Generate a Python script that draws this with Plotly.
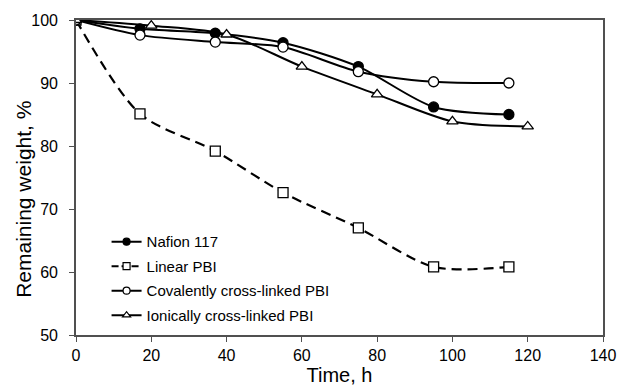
import plotly.graph_objects as go

nafion_x = [0, 17, 37, 55, 75, 95, 115]
nafion_y = [100, 98.6, 97.9, 96.4, 92.6, 86.2, 85.0]

linear_x = [0, 17, 37, 55, 75, 95, 115]
linear_y = [100, 85.1, 79.2, 72.6, 67.0, 60.8, 60.8]

cov_x = [0, 17, 37, 55, 75, 95, 115]
cov_y = [100, 97.6, 96.5, 95.7, 91.8, 90.2, 90.0]

ion_x = [0, 20, 40, 60, 80, 100, 120]
ion_y = [100, 99.1, 97.7, 92.6, 88.2, 83.9, 83.1]

series = [
    ("Nafion 117", nafion_x, nafion_y, "circle", "black", "solid"),
    ("Linear PBI", linear_x, linear_y, "square", "white", "10px,6px"),
    ("Covalently cross-linked PBI", cov_x, cov_y, "circle", "white", "solid"),
    ("Ionically cross-linked PBI", ion_x, ion_y, "triangle-up", "white", "solid"),
]

FONT = "Liberation Sans, Arial"
AXIS = "#505050"

fig = go.Figure()

for i, (name, x, y, sym, fill, dash) in enumerate(series):
    fig.add_trace(go.Scatter(
        x=x, y=y, name=name, mode="lines+markers", showlegend=False,
        line=dict(color="black", width=2.2 if dash != "solid" else 2,
                  shape="spline", smoothing=0.8, dash=dash),
        marker=dict(symbol=sym, size=10, color=fill, line=dict(color="black", width=1.3)),
    ))

# legend-only entries (smaller markers as in the reference legend)
for i, (name, x, y, sym, fill, dash) in enumerate(series):
    fig.add_trace(go.Scatter(
        x=[None], y=[None], name=name, mode="lines+markers", legendgroup=f"g{i}",
        line=dict(color="black", width=2, dash="7px,3px" if dash != "solid" else "solid"),
        marker=dict(symbol=sym, size=7, color=fill, line=dict(color="black", width=1.2)),
    ))

fig.update_layout(
    width=628, height=392,
    margin=dict(l=76, r=16, t=20, b=57),
    paper_bgcolor="white", plot_bgcolor="white",
    font=dict(family=FONT, size=16, color="black"),
    showlegend=True,
    legend=dict(x=0.058, y=0.348, xanchor="left", yanchor="top",
                bgcolor="rgba(0,0,0,0)", font=dict(size=15, family=FONT),
                traceorder="grouped", tracegroupgap=2, itemwidth=30),
    xaxis=dict(range=[0, 140], dtick=20, showline=True, linecolor=AXIS, linewidth=1.6,
               mirror=True, ticks="outside", ticklen=5, tickcolor=AXIS, showgrid=False,
               zeroline=False, tickfont=dict(size=16),
               title=dict(text="Time, h", font=dict(size=20), standoff=2)),
    yaxis=dict(range=[50, 100], dtick=10, showline=True, linecolor=AXIS, linewidth=1.6,
               mirror=True, ticks="outside", ticklen=5, tickcolor=AXIS, showgrid=False,
               zeroline=False, tickfont=dict(size=16), ticklabelstandoff=8),
    annotations=[dict(text="Remaining weight, %", textangle=-90, showarrow=False,
                      xref="paper", yref="paper", x=-0.1, y=0.43,
                      xanchor="center", yanchor="middle", font=dict(size=21))],
)

fig.write_html("out.html")
